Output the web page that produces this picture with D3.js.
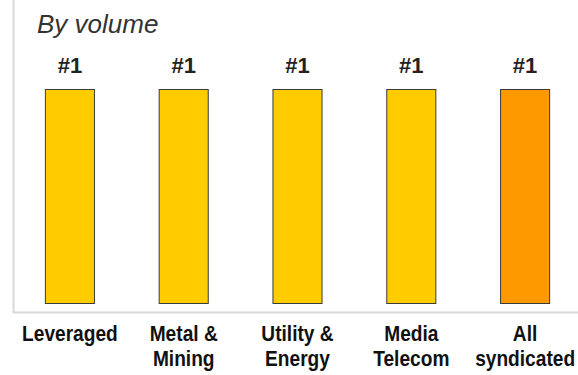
<!DOCTYPE html>
<html>
<head>
<meta charset="utf-8">
<script src="https://cdn.jsdelivr.net/npm/d3@7"></script>
<style>
  html, body { margin: 0; padding: 0; background: #fff; }
  svg { display: block; font-family: Arial, "Liberation Sans", sans-serif; }
</style>
</head>
<body>
<svg id="chart" width="578" height="375"></svg>
<script>
// Segment league-table positions, by volume
const categories = [["Leveraged"], ["Metal &", "Mining"], ["Utility &", "Energy"], ["Media", "Telecom"], ["All", "syndicated"]];
const rankLabels = ["#1", "#1", "#1", "#1", "#1"];
const barValues = [1, 1, 1, 1, 1];
const barColors = ["#FFCC00", "#FFCC00", "#FFCC00", "#FFCC00", "#FF9900"];

const svg = d3.select("#chart");
const W = 578, H = 375;
const plot = { left: 13, right: 582, top: 0, bottom: 312 };

const x = d3.scaleBand()
  .domain(d3.range(categories.length))
  .range([plot.left, plot.right])
  .paddingInner(0.56)
  .paddingOuter(0.28);

const y = d3.scaleLinear().domain([0, 1]).range([303, 89]);

// plot frame: left and bottom rules
svg.append("line")
  .attr("x1", plot.left + 0.5).attr("x2", plot.left + 0.5)
  .attr("y1", 0).attr("y2", plot.bottom + 1)
  .attr("stroke", "#d9d9d9").attr("stroke-width", 2);
svg.append("line")
  .attr("x1", plot.left).attr("x2", W)
  .attr("y1", plot.bottom + 0.5).attr("y2", plot.bottom + 0.5)
  .attr("stroke", "#d9d9d9").attr("stroke-width", 2);

// title
svg.append("text")
  .attr("x", 37).attr("y", 33)
  .attr("font-size", 26).attr("font-style", "italic")
  .attr("fill", "#333")
  .text("By volume");

// bars
svg.append("g").selectAll("rect")
  .data(barValues)
  .join("rect")
  .attr("x", (d, i) => x(i) + 0.5)
  .attr("y", d => y(d) + 0.5)
  .attr("width", x.bandwidth() - 1)
  .attr("height", d => y(0) - y(d))
  .attr("fill", (d, i) => barColors[i])
  .attr("stroke", "#3a3a3a")
  .attr("stroke-width", 1);

// rank labels above bars
svg.append("g").selectAll("text")
  .data(rankLabels)
  .join("text")
  .attr("x", (d, i) => x(i) + x.bandwidth() / 2)
  .attr("y", (d, i) => y(barValues[i]) - 16)
  .attr("text-anchor", "middle")
  .attr("font-size", 22).attr("font-weight", "bold")
  .attr("fill", "#222")
  .text(d => d);

// category labels (two lines, condensed)
const cat = svg.append("g").selectAll("g")
  .data(categories)
  .join("g")
  .attr("transform", (d, i) => `translate(${x(i) + x.bandwidth() / 2},341) scale(0.87,1)`);
cat.append("text")
  .attr("text-anchor", "middle")
  .attr("font-size", 22).attr("font-weight", "bold")
  .attr("fill", "#111")
  .selectAll("tspan")
  .data(d => d)
  .join("tspan")
  .attr("x", 0)
  .attr("y", (d, j) => j * 25)
  .text(d => d);
</script>
</body>
</html>
